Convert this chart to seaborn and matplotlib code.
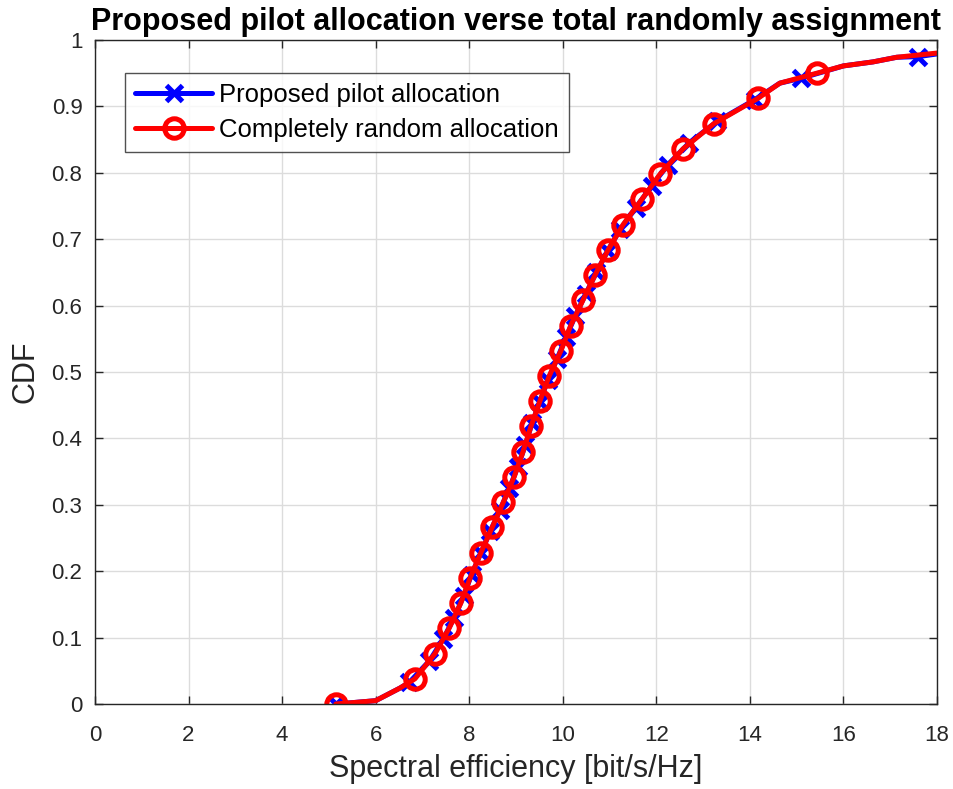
import numpy as np
import pandas as pd
import matplotlib
matplotlib.use("Agg")
import matplotlib.pyplot as plt
import seaborn as sns

# ---- data ----
# red (Completely random allocation): marker points
red_mk_x = [5.15, 6.84, 7.27, 7.57, 7.82, 8.02, 8.25, 8.49, 8.73, 8.96, 9.15, 9.32, 9.51,
            9.71, 9.96, 10.17, 10.43, 10.69, 10.97, 11.29, 11.69, 12.08, 12.57, 13.23,
            14.17, 15.43]
red_mk_y = [0.000, 0.038, 0.076, 0.114, 0.152, 0.190, 0.228, 0.266, 0.304, 0.342, 0.380,
            0.418, 0.456, 0.494, 0.532, 0.570, 0.608, 0.646, 0.684, 0.722, 0.760, 0.798,
            0.836, 0.874, 0.912, 0.950]
# red curve points between markers
red_ln_x = [5.5, 6.0, 6.52, 14.64, 16.0, 16.63, 17.14, 18.5]
red_ln_y = [0.002, 0.005, 0.024, 0.935, 0.961, 0.967, 0.974, 0.984]

# blue (Proposed pilot allocation): marker points
blue_mk_x = [5.15, 6.72, 7.15, 7.44, 7.68, 7.88, 8.05, 8.25, 8.45, 8.66, 8.86, 9.04, 9.20,
             9.34, 9.51, 9.68, 9.88, 10.07, 10.27, 10.49, 10.72, 10.96, 11.23, 11.56,
             11.90, 12.25, 12.70, 13.30, 14.10, 15.10, 17.60]
blue_mk_y = [0.0000, 0.0325, 0.0650, 0.0975, 0.1300, 0.1625, 0.1950, 0.2275, 0.2600,
             0.2925, 0.3250, 0.3575, 0.3900, 0.4225, 0.4550, 0.4875, 0.5200, 0.5525,
             0.5850, 0.6175, 0.6500, 0.6825, 0.7150, 0.7475, 0.7800, 0.8125, 0.8450,
             0.8775, 0.9100, 0.9425, 0.9750]
blue_ln_x = [5.5, 6.0, 6.52, 14.64, 16.0, 16.63, 17.14, 18.5]
blue_ln_y = [0.002, 0.005, 0.024, 0.935, 0.961, 0.967, 0.974, 0.984]

labels = ["Proposed pilot allocation", "Completely random allocation"]
xticks = list(range(0, 19, 2))
yticks = [0, 0.1, 0.2, 0.3, 0.4, 0.5, 0.6, 0.7, 0.8, 0.9, 1]
ytick_labels = ["0", "0.1", "0.2", "0.3", "0.4", "0.5", "0.6", "0.7", "0.8", "0.9", "1"]

# ---- build curves ----
def build(mx, my, lx, ly):
    df = pd.DataFrame({
        "x": list(mx) + list(lx),
        "y": list(my) + list(ly),
        "mk": [True] * len(mx) + [False] * len(lx),
    }).sort_values("x").reset_index(drop=True)
    return df, list(np.where(df["mk"].values)[0])

blue_df, blue_every = build(blue_mk_x, blue_mk_y, blue_ln_x, blue_ln_y)
red_df, red_every = build(red_mk_x, red_mk_y, red_ln_x, red_ln_y)

sns.set_theme(style="white")
plt.rcParams['font.family'] = ['Liberation Sans', 'DejaVu Sans']
txt = "#262626"

fig = plt.figure(figsize=(9.54, 7.89), dpi=100)
ax = fig.add_axes([95 / 954, 1 - 704 / 789, (937 - 95) / 954, (704 - 40) / 789])

sns.lineplot(data=blue_df, x="x", y="y", ax=ax, sort=False, estimator=None,
             color="#0000ff", lw=3.6, marker="x", markersize=11,
             markeredgewidth=3.6, markeredgecolor="#0000ff",
             markevery=blue_every, label=labels[0])
sns.lineplot(data=red_df, x="x", y="y", ax=ax, sort=False, estimator=None,
             color="#ff0000", lw=3.6, marker="o", markersize=14,
             markeredgewidth=3.6, markerfacecolor="none", markeredgecolor="#ff0000",
             markevery=red_every, label=labels[1])

ax.set_xlim(0, 18)
ax.set_ylim(0, 1)
ax.set_xticks(xticks)
ax.set_yticks(yticks)
ax.set_yticklabels(ytick_labels)
ax.grid(True, color="#dcdcdc", lw=1)
ax.set_axisbelow(True)
ax.tick_params(direction="in", length=6, width=1, colors=txt, labelsize=16,
               top=True, right=True, bottom=True, left=True, pad=9)
ax.tick_params(axis="x", pad=15)
for s in ax.spines.values():
    s.set_color(txt)
    s.set_linewidth(1)
    s.set_visible(True)

ax.set_xlabel("Spectral efficiency [bit/s/Hz]", fontsize=22, color=txt, labelpad=6)
ax.set_ylabel("CDF", fontsize=22, color=txt, labelpad=8)
ax.set_title("Proposed pilot allocation verse total randomly assignment",
             fontsize=22, fontweight="bold", color="black", pad=7)

leg = ax.legend(loc="upper left", bbox_to_anchor=(30 / 842, 1 - 33 / 664),
                fontsize=18.5, frameon=True, fancybox=False, edgecolor=txt,
                handlelength=3.0, handletextpad=0.25, borderpad=0.4,
                labelspacing=0.42, borderaxespad=0)
leg.get_frame().set_linewidth(1)
for t in leg.get_texts():
    t.set_color("black")

fig.savefig("out.png", dpi=100)
